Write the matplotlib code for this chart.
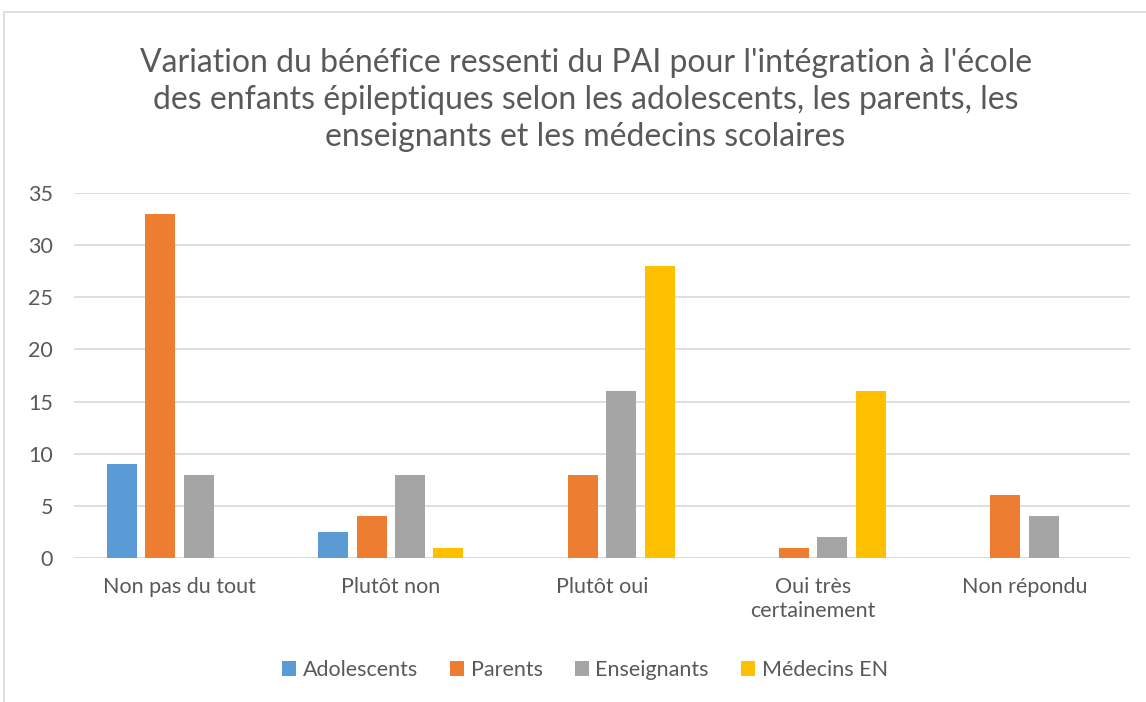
import numpy as np
import matplotlib
matplotlib.use("Agg")
import matplotlib.pyplot as plt
from matplotlib.patches import Rectangle

categories = ["Non pas du tout", "Plutôt non", "Plutôt oui", "Oui très\ncertainement", "Non répondu"]
series = ["Adolescents", "Parents", "Enseignants", "Médecins EN"]
adolescents = [9, 2.5, 0, 0, 0]
parents = [33, 4, 8, 1, 6]
enseignants = [8, 8, 16, 2, 4]
medecins = [0, 1, 28, 16, 0]
colors = ["#5B9BD5", "#ED7D31", "#A5A5A5", "#FFC000"]

plt.rcParams["font.family"] = ["Lato", "DejaVu Sans"]
TXT = "#595959"

W, H = 1146, 702
fig = plt.figure(figsize=(W / 100, H / 100), dpi=100)
# chart border (cut off at right/bottom)
fig.add_artist(Rectangle((4 / W, -0.05), 1.2, 1 - 12 / H + 0.05, transform=fig.transFigure,
                         fill=False, ec="#D9D9D9", lw=1.2))

ax = fig.add_axes([74 / W, 1 - 558 / H, (1130 - 74) / W, (558 - 193) / H])
x = np.arange(len(categories))
bw, step = 0.142, 0.182
for i, (vals, name) in enumerate(zip([adolescents, parents, enseignants, medecins], series)):
    ax.bar(x + (i - 1.5) * step, vals, width=bw, color=colors[i], label=name, zorder=3)

ax.set_xlim(-0.5, len(categories) - 0.5)
ax.set_ylim(0, 35)
ax.set_yticks(range(0, 36, 5))
ax.grid(axis="y", color="#D9D9D9", lw=1.2, zorder=0)
for s in ax.spines.values():
    s.set_visible(False)
ax.axhline(0, color="#D9D9D9", lw=1.2, zorder=2)
ax.tick_params(length=0, labelsize=15.5, colors=TXT, pad=14)
ax.tick_params(axis="y", pad=15)
ax.set_xticks(x)
ax.set_xticklabels(categories, linespacing=1.25)
for lbl in ax.get_yticklabels():
    lbl.set_horizontalalignment("right")

fig.text(0.511, 1 - 100 / H,
         "Variation du bénéfice ressenti du PAI pour l'intégration à l'école\n"
         "des enfants épileptiques selon les adolescents, les parents, les\n"
         "enseignants et les médecins scolaires",
         ha="center", va="center", fontsize=23, color=TXT, linespacing=1.3)

fig.legend(loc="center", bbox_to_anchor=(585 / W, 1 - 670 / H), ncol=4, frameon=False,
           fontsize=15.5, labelcolor=TXT, handlelength=0.65, handleheight=0.65,
           handletextpad=0.3, columnspacing=1.5)

fig.savefig("out.png", dpi=100)
